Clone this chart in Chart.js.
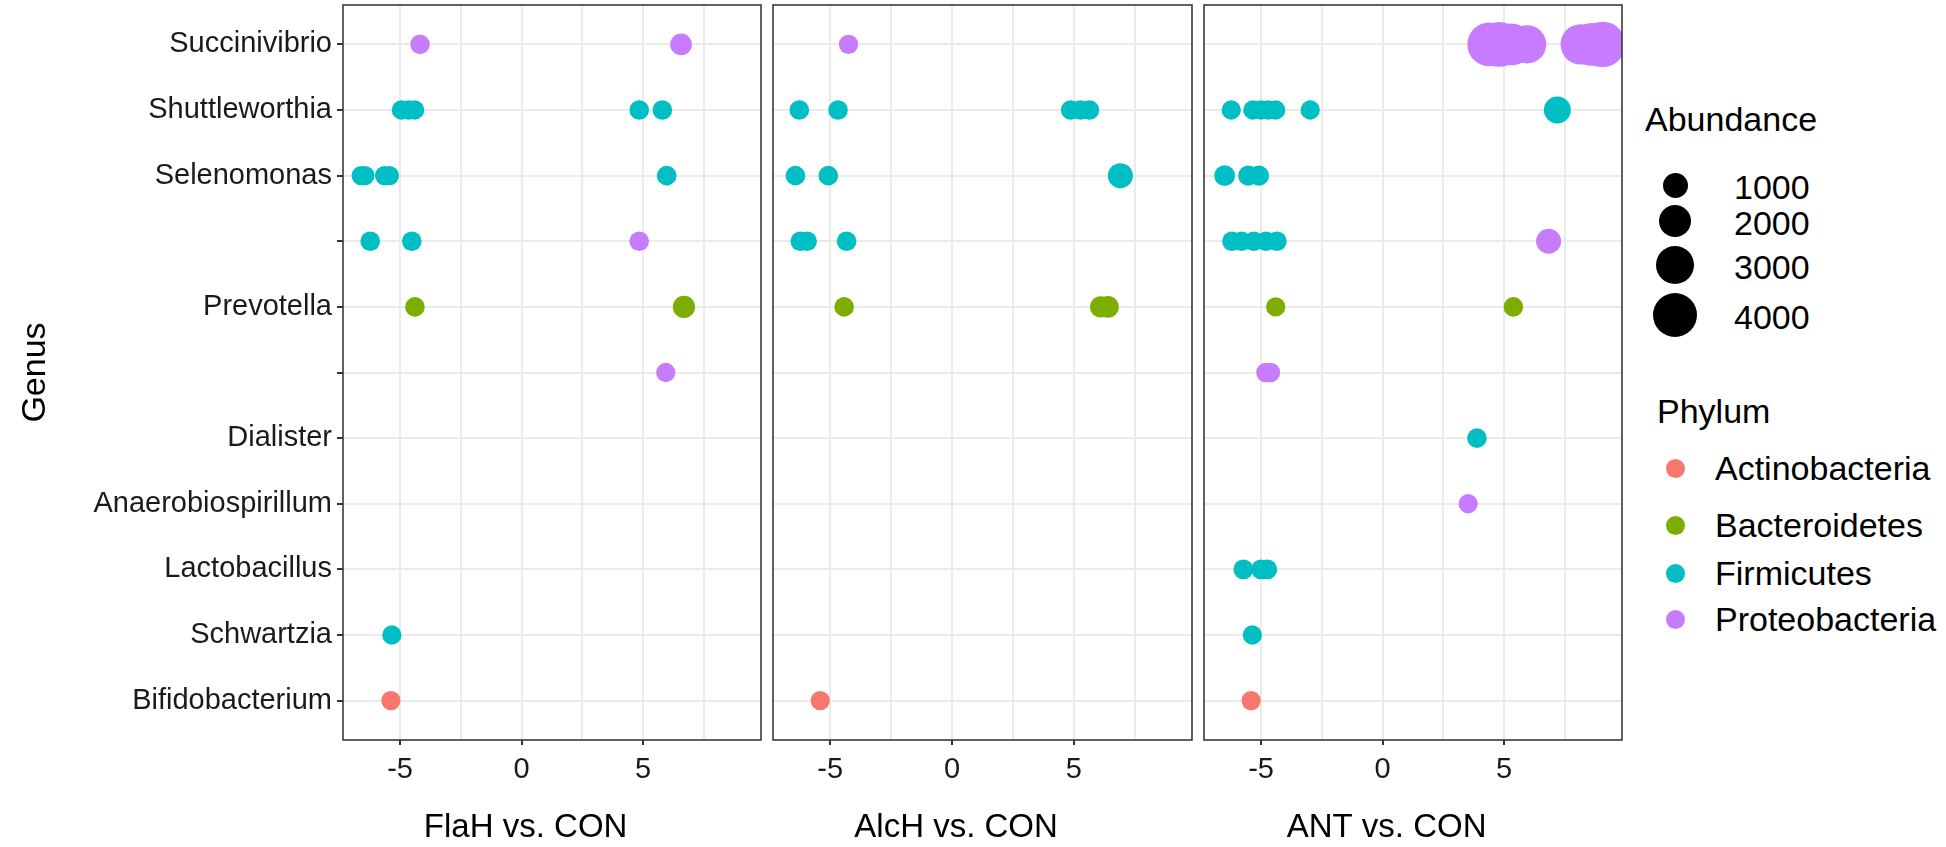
<!DOCTYPE html>
<html>
<head>
<meta charset="utf-8">
<script src="https://cdn.jsdelivr.net/npm/chart.js@4.4.1/dist/chart.umd.min.js"></script>
<style>
  html, body { margin: 0; padding: 0; background: #fff; }
  body { width: 1946px; height: 847px; position: relative; overflow: hidden; font-family: 'Liberation Sans', Arial, sans-serif; }
  canvas { position: absolute; top: 0; }
  .lg { position: absolute; line-height: 1; white-space: nowrap; color: #000; font-size: 34px; }
  .key { position: absolute; border-radius: 50%; }
</style>
</head>
<body>
<canvas id="flah" width="763" height="847" style="left:0px"></canvas>
<canvas id="alch" width="429" height="847" style="left:765px"></canvas>
<canvas id="ant" width="428" height="847" style="left:1196px"></canvas>
<div id="legend"></div>

<script>
const genera = ['Bifidobacterium', 'Schwartzia', 'Lactobacillus', 'Anaerobiospirillum', 'Dialister', '',
  'Prevotella', '', 'Selenomonas', 'Shuttleworthia', 'Succinivibrio'];
const phyla = ['Actinobacteria', 'Bacteroidetes', 'Firmicutes', 'Proteobacteria'];
const comparisons = ['FlaH vs. CON', 'AlcH vs. CON', 'ANT vs. CON'];
const xTicks = [-5, 0, 5];
const xGrid = [-7.5, -5, -2.5, 0, 2.5, 5, 7.5];
const sizeBreaks = [1000, 2000, 3000, 4000];

// row = position in genera (1 = bottom), lfc = log2 fold change, phylum = index in phyla
const flahRow = [11, 11, 10, 10, 10, 10, 10, 9, 9, 9, 9, 9, 8, 8, 8, 7, 7, 6, 2, 1];
const flahLfc = [-4.18, 6.56, -4.95, -4.65, -4.4, 4.84, 5.79, -6.6, -6.45, -5.64, -5.44, 5.97, -6.23, -4.52, 4.84, -4.39, 6.68, 5.93, -5.34, -5.38];
const flahAbund = [450, 650, 420, 420, 420, 450, 450, 420, 420, 420, 420, 450, 450, 450, 450, 450, 700, 420, 420, 420];
const flahPhylum = [3, 3, 2, 2, 2, 2, 2, 2, 2, 2, 2, 2, 2, 2, 3, 1, 1, 3, 2, 0];

const alchRow = [11, 10, 10, 10, 10, 10, 9, 9, 9, 8, 8, 8, 7, 7, 7, 1];
const alchLfc = [-4.25, -6.27, -4.68, 4.87, 5.27, 5.64, -6.43, -5.08, 6.91, -6.23, -5.95, -4.33, -4.43, 6.1, 6.4, -5.41];
const alchAbund = [420, 450, 450, 450, 450, 450, 450, 450, 1000, 450, 450, 450, 450, 600, 650, 420];
const alchPhylum = [3, 2, 2, 2, 2, 2, 2, 2, 2, 2, 2, 2, 1, 1, 1, 0];

const antRow = [11, 11, 11, 11, 11, 11, 11, 10, 10, 10, 10, 10, 10, 10, 9, 9, 9, 8, 8, 8, 8, 8, 8, 7, 7, 6, 6, 5, 4, 3, 3, 3, 2, 1];
const antLfc = [4.38, 4.8, 5.3, 5.95, 8.15, 8.6, 9.05, -6.23, -5.34, -5.0, -4.7, -4.4, -2.98, 7.19, -6.5, -5.53, -5.09,
  -6.2, -5.8, -5.3, -4.8, -4.35, 6.83, -4.4, 5.38, -4.8, -4.62, 3.88, 3.52, -5.73, -5.0, -4.75, -5.36, -5.41];
const antAbund = [3900, 4200, 3600, 2900, 3300, 3800, 4300, 420, 420, 420, 420, 420, 420, 1238, 560, 500, 500,
  450, 450, 450, 450, 450, 1000, 420, 450, 450, 450, 450, 420, 480, 480, 480, 420, 420];
const antPhylum = [3, 3, 3, 3, 3, 3, 3, 2, 2, 2, 2, 2, 2, 2, 2, 2, 2, 2, 2, 2, 2, 2, 3, 1, 1, 3, 3, 2, 3, 2, 2, 2, 2, 0];

const phylumColors = ['#F8766D', '#7CAE00', '#00BFC4', '#C77CFF'];
const family = "'Liberation Sans', Arial, sans-serif";
const xMin = -7.35;
const xMax = 9.85;

Chart.defaults.font.family = family;

// area grows linearly with abundance, matched to the size legend
const diameterFor = (a) => Math.sqrt(188 + 0.437 * a);

const frame = {
  id: 'frame',
  afterDatasetsDraw(chart) {
    const { ctx, chartArea: a } = chart;
    ctx.save();
    ctx.strokeStyle = '#3a3a3a';
    ctx.lineWidth = 1.6;
    ctx.strokeRect(a.left, a.top, a.right - a.left, a.bottom - a.top);
    ctx.restore();
  },
};

const facetLabel = {
  id: 'facetLabel',
  afterDraw(chart, args, opts) {
    const { ctx } = chart;
    const x = chart.scales.x.getPixelForValue(0) + 4;
    ctx.save();
    ctx.font = `33px ${family}`;
    ctx.fillStyle = '#000';
    ctx.textAlign = 'center';
    ctx.textBaseline = 'middle';
    ctx.fillText(opts.text, x, 828);
    ctx.restore();
  },
};

function buildDatasets(rows, lfc, abund, phylum) {
  return phyla.map((name, k) => ({
    label: name,
    data: rows
      .map((r, i) => ({ x: lfc[i], y: r, r: diameterFor(abund[i]) / 2, p: phylum[i] }))
      .filter((d) => d.p === k),
    backgroundColor: phylumColors[k],
    borderWidth: 0,
    clip: 0,
  }));
}

function makePanel(id, idx, datasets, showY) {
  return new Chart(document.getElementById(id), {
    type: 'bubble',
    data: { datasets },
    options: {
      responsive: false,
      animation: false,
      events: [],
      layout: { autoPadding: false, padding: { top: 5, right: 2, left: 0, bottom: 0 } },
      plugins: {
        legend: { display: false },
        tooltip: { enabled: false },
        facetLabel: { text: comparisons[idx] },
      },
      scales: {
        x: {
          type: 'linear',
          min: xMin,
          max: xMax,
          afterBuildTicks: (s) => {
            s.ticks = xGrid.filter((v) => v >= xMin && v <= xMax).map((v) => ({ value: v }));
          },
          afterFit: (s) => {
            s.height = 107;
            s.paddingLeft = 0;
            s.paddingRight = 0;
          },
          grid: {
            color: '#ebebeb',
            lineWidth: 2,
            tickLength: 5,
            tickColor: (c) => (c.tick && xTicks.includes(c.tick.value) ? '#333' : 'rgba(0,0,0,0)'),
          },
          border: { display: false },
          ticks: {
            font: { size: 29 },
            color: '#1a1a1a',
            padding: 8,
            maxRotation: 0,
            autoSkip: false,
            callback: (v) => (xTicks.includes(v) ? String(v) : ''),
          },
        },
        y: {
          type: 'linear',
          min: 0.4,
          max: 11.6,
          afterBuildTicks: (s) => {
            s.ticks = genera.map((g, i) => ({ value: i + 1 }));
          },
          afterFit: (s) => {
            s.width = showY ? 343 : 8;
            s.paddingTop = 0;
            s.paddingBottom = 0;
          },
          grid: {
            color: '#ebebeb',
            lineWidth: 2,
            drawTicks: showY,
            tickLength: 6,
            tickColor: '#333',
          },
          border: { display: false },
          ticks: {
            display: showY,
            font: { size: 29 },
            color: '#1a1a1a',
            padding: 5,
            autoSkip: false,
            callback: (v) => genera[v - 1],
          },
          title: {
            display: showY,
            text: 'Genus',
            font: { size: 34 },
            color: '#000',
            padding: { top: 15, bottom: 0 },
          },
        },
      },
    },
    plugins: [frame, facetLabel],
  });
}

makePanel('flah', 0, buildDatasets(flahRow, flahLfc, flahAbund, flahPhylum), true);
makePanel('alch', 1, buildDatasets(alchRow, alchLfc, alchAbund, alchPhylum), false);
makePanel('ant', 2, buildDatasets(antRow, antLfc, antAbund, antPhylum), false);

// legend (HTML text, keys sized with the same abundance scale)
const legend = document.getElementById('legend');
const keyX = 1675;

function addText(text, left, cy) {
  const el = document.createElement('div');
  el.className = 'lg';
  el.textContent = text;
  el.style.left = left + 'px';
  el.style.top = (cy - 17) + 'px';
  legend.appendChild(el);
}

function addKey(cx, cy, d, color) {
  const el = document.createElement('div');
  el.className = 'key';
  el.style.width = d + 'px';
  el.style.height = d + 'px';
  el.style.left = (cx - d / 2) + 'px';
  el.style.top = (cy - d / 2) + 'px';
  el.style.background = color;
  legend.appendChild(el);
}

addText('Abundance', 1645, 119);
const sizeKeyY = [185, 221, 265, 315];
sizeBreaks.forEach((b, i) => {
  addKey(keyX, sizeKeyY[i], diameterFor(b), '#000');
  addText(String(b), 1734, sizeKeyY[i] + 2);
});

addText('Phylum', 1657, 411);
const phylumKeyY = [468, 525, 573, 619];
phyla.forEach((p, i) => {
  addKey(keyX, phylumKeyY[i], 19, phylumColors[i]);
  addText(p, 1715, phylumKeyY[i]);
});
</script>
</body>
</html>
